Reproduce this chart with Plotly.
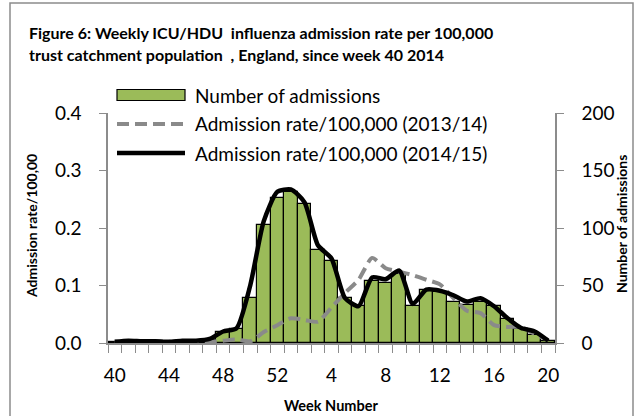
import plotly.graph_objects as go

weeks = ["40", "41", "42", "43", "44", "45", "46", "47", "48", "49", "50", "51", "52",
         "1", "2", "3", "4", "5", "6", "7", "8", "9", "10", "11", "12", "13", "14",
         "15", "16", "17", "18", "19", "20"]
admissions = [1, 2, 1, 1, 1, 2, 2, 3, 10, 12, 39, 103, 126, 131, 121, 81, 71, 39, 32,
              54, 52, 60, 32, 46, 44, 36, 33, 36, 32, 21, 12, 7, 1.5]
rate_2014_15 = [0.002, 0.004, 0.003, 0.003, 0.002, 0.004, 0.004, 0.007, 0.020, 0.026,
                0.100, 0.212, 0.263, 0.267, 0.245, 0.170, 0.147, 0.078, 0.064, 0.114,
                0.111, 0.126, 0.068, 0.093, 0.091, 0.083, 0.072, 0.078, 0.064, 0.043,
                0.026, 0.020, 0.004]
rate_2013_14 = [0.002, 0.002, 0.002, 0.003, 0.002, 0.002, 0.002, 0.002, 0.004, 0.006,
                0.003, 0.019, 0.031, 0.043, 0.040, 0.037, 0.062, 0.087, 0.110, 0.148,
                0.130, 0.124, 0.118, 0.110, 0.102, 0.078, 0.056, 0.052, 0.031, 0.028,
                0.028, 0.016, 0.005]
label_every = 4

xpos = list(range(len(weeks)))
tickvals = xpos[::label_every]
ticktext = weeks[::label_every]

W, H = 640, 416
L, R, T, B = 108, 85, 113, 73
PW, PH = W - L - R, H - T - B

FONT = "Lato"
AX = "#8c8c8c"

fig = go.Figure()
fig.add_trace(go.Bar(x=xpos, y=admissions, yaxis="y", name="Number of admissions",
                     marker=dict(color="#9BBB59", line=dict(color="black", width=1.2)),
                     showlegend=False))
fig.add_trace(go.Scatter(x=xpos, y=rate_2013_14, yaxis="y2", mode="lines",
                         name="Admission rate/100,000 (2013/14)",
                         line=dict(color="#8a8a8a", width=4, dash="12px,6px",
                                   shape="spline", smoothing=0.6),
                         showlegend=False))
fig.add_trace(go.Scatter(x=xpos, y=rate_2014_15, yaxis="y2", mode="lines",
                         name="Admission rate/100,000 (2014/15)",
                         line=dict(color="black", width=4.5, shape="spline", smoothing=0.6),
                         showlegend=False))

tickfont = dict(family=FONT, size=19, color="black")
fig.update_layout(
    width=W, height=H,
    margin=dict(l=L, r=R, t=T, b=B),
    paper_bgcolor="white", plot_bgcolor="white",
    bargap=0,
    xaxis=dict(range=[-0.5, len(weeks) - 0.5], tickvals=tickvals, ticktext=ticktext,
               ticks="", showgrid=False, zeroline=False, showline=True,
               linecolor=AX, linewidth=1.5, tickfont=tickfont, ticklabelstandoff=14,
               minor=dict(ticks="outside", ticklen=8, tickcolor=AX, tickwidth=1,
                          tick0=-0.5, dtick=1, showgrid=False)),
    yaxis=dict(range=[0, 200], side="right", dtick=50, showgrid=False, zeroline=False,
               showline=True, linecolor=AX, linewidth=1.5, ticks="outside", ticklen=7,
               tickcolor=AX, tickfont=tickfont, ticklabelstandoff=14),
    yaxis2=dict(range=[0, 0.4], side="left", overlaying="y", dtick=0.1, tickformat=".1f",
                showgrid=False, zeroline=False, showline=True, linecolor=AX, linewidth=1.5,
                ticks="outside", ticklen=7, tickcolor=AX, tickfont=tickfont,
                ticklabelstandoff=14),
    showlegend=False,
)

def px_x(x):
    return (x - L) / PW

def px_y(y):
    return (H - B - y) / PH

shapes = []
annotations = []
# chart border
shapes.append(dict(type="rect", xref="paper", yref="paper",
                   x0=px_x(10), x1=px_x(633), y0=px_y(420), y1=px_y(3),
                   line=dict(color="#8c8c8c", width=1.5), fillcolor="rgba(0,0,0,0)"))

# title
title_font = dict(family=FONT, size=16, color="black")
annotations.append(dict(text="<b>Figure 6: Weekly ICU/HDU  influenza admission rate per 100,000</b>",
                        xref="paper", yref="paper", x=px_x(27), y=px_y(32),
                        xanchor="left", yanchor="middle", showarrow=False, font=title_font))
annotations.append(dict(text="<b>trust catchment population  , England, since week 40 2014</b>",
                        xref="paper", yref="paper", x=px_x(27), y=px_y(55),
                        xanchor="left", yanchor="middle", showarrow=False, font=title_font))

# manual legend (symbol samples + text)
leg_font = dict(family=FONT, size=19, color="black")
rows = [95, 124, 153]
sx0, sx1, tx = 117, 185, 193
shapes.append(dict(type="rect", xref="paper", yref="paper",
                   x0=px_x(sx0), x1=px_x(sx1), y0=px_y(rows[0] + 5.5), y1=px_y(rows[0] - 5.5),
                   fillcolor="#9BBB59", line=dict(color="black", width=1.2)))
shapes.append(dict(type="line", xref="paper", yref="paper",
                   x0=px_x(sx0), x1=px_x(sx1), y0=px_y(rows[1]), y1=px_y(rows[1]),
                   line=dict(color="#8a8a8a", width=4, dash="12px,6px")))
shapes.append(dict(type="line", xref="paper", yref="paper",
                   x0=px_x(sx0), x1=px_x(sx1), y0=px_y(rows[2]), y1=px_y(rows[2]),
                   line=dict(color="black", width=4.5)))
for row, name in zip(rows, ["Number of admissions",
                            "Admission rate/100,000 (2013/14)",
                            "Admission rate/100,000 (2014/15)"]):
    annotations.append(dict(text=name, xref="paper", yref="paper", x=px_x(tx), y=px_y(row),
                            xanchor="left", yanchor="middle", showarrow=False, font=leg_font))

# axis titles
axt_font = dict(family=FONT, size=14, color="black")
annotations.append(dict(text="<b>Admission rate/100,00</b>", xref="paper", yref="paper",
                        x=px_x(31), y=px_y(226), textangle=-90, xanchor="center",
                        yanchor="middle", showarrow=False, font=axt_font))
annotations.append(dict(text="<b>Number of admissions</b>", xref="paper", yref="paper",
                        x=px_x(621), y=px_y(224), textangle=-90, xanchor="center",
                        yanchor="middle", showarrow=False, font=axt_font))
annotations.append(dict(text="<b>Week Number</b>", xref="paper", yref="paper",
                        x=px_x(331), y=px_y(405), xanchor="center", yanchor="middle",
                        showarrow=False, font=dict(family=FONT, size=14.5, color="black")))

fig.update_layout(shapes=shapes, annotations=annotations)
fig.write_html("out.html", config={"displayModeBar": False},
               post_script="document.body.style.margin='0';")
